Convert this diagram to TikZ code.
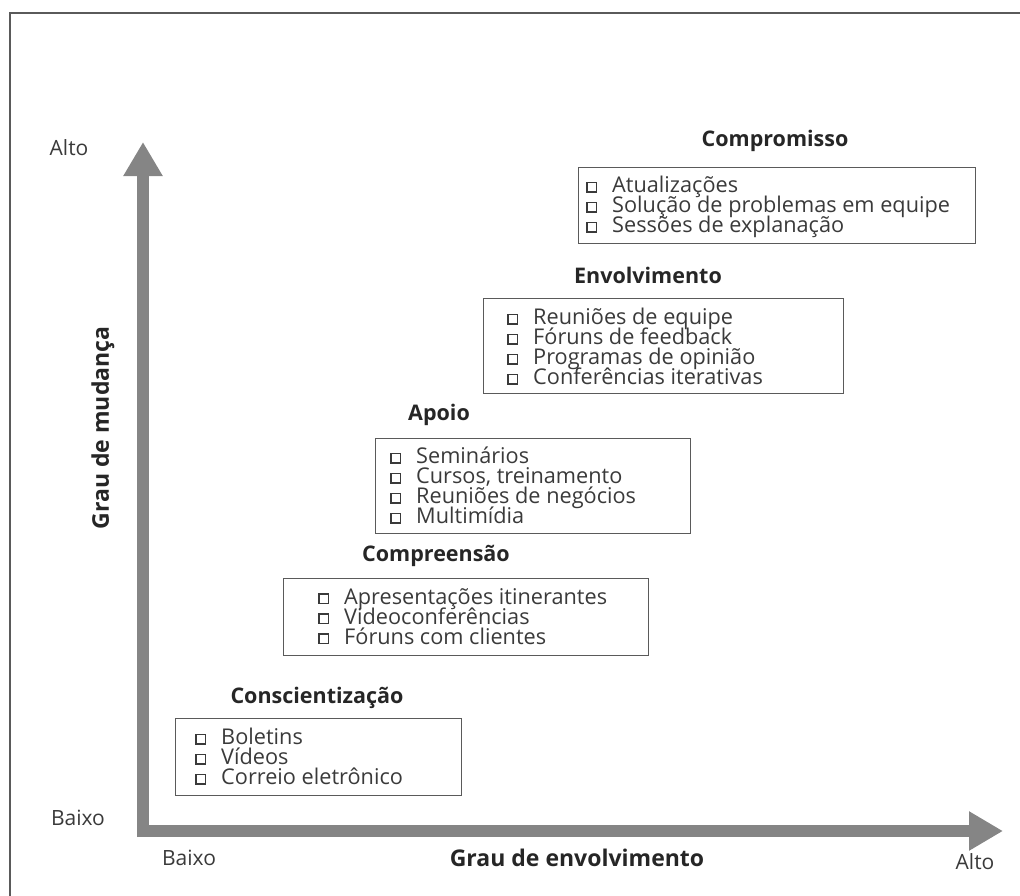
\documentclass[tikz,border=0pt]{standalone}
\usepackage{fontspec}
\setmainfont{Open Sans}
\usetikzlibrary{arrows.meta}
\definecolor{axisgray}{HTML}{858585}
\definecolor{framegray}{HTML}{5A5A5A}
\definecolor{textgray}{HTML}{3A3A3A}
% hollow square bullet in front of each list entry
\newcommand{\itembox}{\makebox[26pt][l]{\raisebox{5.4pt}{\setlength{\fboxsep}{4pt}\setlength{\fboxrule}{1.4pt}\fbox{}}}}
% keep an even baseline distance even when lines come close
\newcommand{\tightlines}{\setlength{\lineskiplimit}{-50pt}\setlength{\lineskip}{0pt}}
\tikzset{
  frameline/.style={draw=framegray, line width=2pt},
  axis/.style={draw=axisgray, line width=12pt,
    -{Triangle[length=34pt,width=37pt]}},
  stagebox/.style={draw=framegray, line width=1.3pt, rectangle,
    anchor=north west, inner sep=0pt},
  stagelist/.style={anchor=north west, align=left, inner sep=0pt,
    text=textgray, font=\fontsize{21.7}{20}\selectfont\tightlines},
  stagetitle/.style={font=\bfseries\fontsize{21.5}{22}\selectfont, text=black!85},
  axistitle/.style={font=\bfseries\fontsize{23}{24}\selectfont, text=black!85},
  axislabel/.style={font=\fontsize{21}{22}\selectfont, text=textgray},
}
\begin{document}
\begin{tikzpicture}[x=1pt,y=-1pt]
\useasboundingbox (0,0) rectangle (1020,895);
% outer frame: only the top and left edges fall inside the page
\coordinate (ftr) at (1025,13);
\coordinate (ftl) at (10,13);
\coordinate (fbl) at (10,900);
\draw[frameline] (ftr) -- (ftl) -- (fbl);

% axes
\coordinate (ybase) at (143,837);
\coordinate (ytip) at (143,142);
\coordinate (xbase) at (137,831);
\coordinate (xtip) at (1003,831);
\draw[axis] (ybase) -- (ytip);
\draw[axis] (xbase) -- (xtip);

% axis labels
\node[axislabel] (yhigh) at (69,148) {Alto};
\node[axislabel] (ylow) at (78,818) {Baixo};
\node[axislabel] (xlow) at (189,858) {Baixo};
\node[axislabel] (xhigh) at (975,862) {Alto};
\node[axistitle, rotate=90] (ytitle) at (103,428) {Grau de mudança};
\node[axistitle] (xtitle) at (577,858) {Grau de envolvimento};

% Compromisso
\node[stagetitle] (t5) at (775,141) {Compromisso};
\node[stagebox, minimum width=397pt, minimum height=76pt] (b5) at (578,167) {};
\node[stagelist] (l5) at (586,176) {\itembox Atualizações\\ \itembox Solução de problemas em equipe\\ \itembox Sessões de explanação};

% Envolvimento
\node[stagetitle] (t4) at (648,275) {Envolvimento};
\node[stagebox, minimum width=360pt, minimum height=95pt] (b4) at (483,298) {};
\node[stagelist] (l4) at (507,308) {\itembox Reuniões de equipe\\ \itembox Fóruns de feedback\\ \itembox Programas de opinião\\ \itembox Conferências iterativas};

% Apoio
\node[stagetitle] (t3) at (439,415) {Apoio};
\node[stagebox, minimum width=315pt, minimum height=95pt] (b3) at (375,438) {};
\node[stagelist] (l3) at (390,447) {\itembox Seminários\\ \itembox Cursos, treinamento\\ \itembox Reuniões de negócios\\ \itembox Multimídia};

% Compreensão
\node[stagetitle] (t2) at (436,556) {Compreensão};
\node[stagebox, minimum width=365pt, minimum height=77pt] (b2) at (283,578) {};
\node[stagelist] (l2) at (318,588) {\itembox Apresentações itinerantes\\ \itembox Videoconferências\\ \itembox Fóruns com clientes};

% Conscientização
\node[stagetitle] (t1) at (317,698) {Conscientização};
\node[stagebox, minimum width=286pt, minimum height=77pt] (b1) at (175,718) {};
\node[stagelist] (l1) at (195,728) {\itembox Boletins\\ \itembox Vídeos\\ \itembox Correio eletrônico};
\end{tikzpicture}
\end{document}
